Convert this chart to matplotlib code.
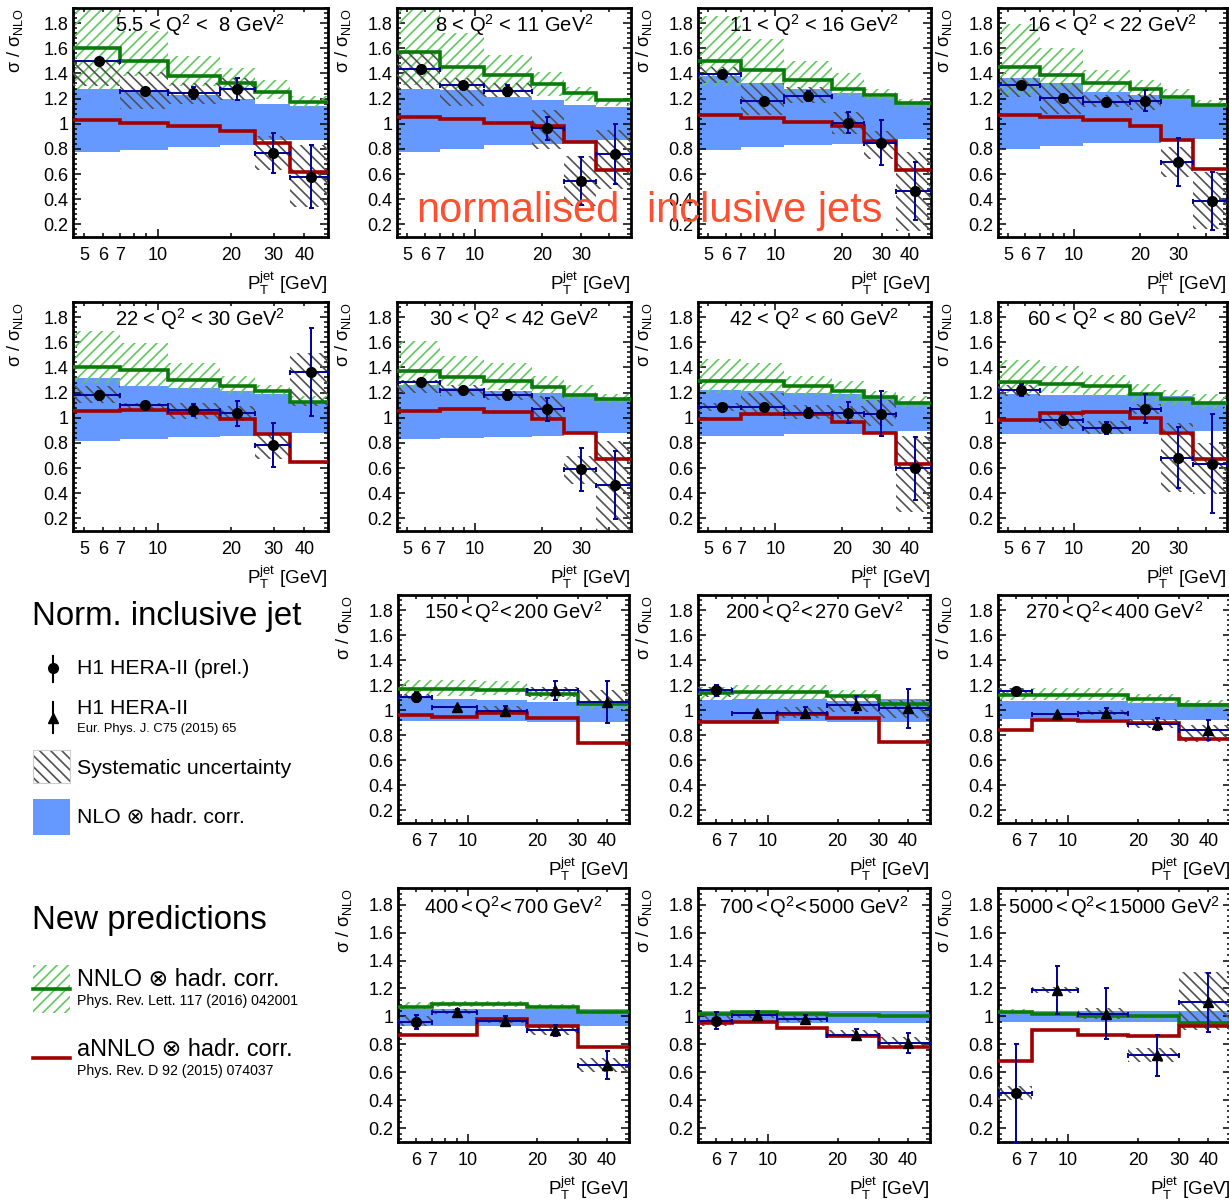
import matplotlib
matplotlib.use('Agg')
import matplotlib.pyplot as plt
import matplotlib.transforms as mtransforms
from matplotlib.patches import Rectangle
from matplotlib.ticker import FixedLocator, MultipleLocator, FuncFormatter
import numpy as np

plt.rcParams['font.family'] = ['Liberation Sans', 'DejaVu Sans']
plt.rcParams['mathtext.fontset'] = 'custom'
plt.rcParams['mathtext.rm'] = 'Liberation Sans'
plt.rcParams['mathtext.it'] = 'Liberation Sans:italic'
plt.rcParams['mathtext.bf'] = 'Liberation Sans:bold'
plt.rcParams['hatch.linewidth'] = 1.2

# ---------------- data ----------------
edges_low = [4.5, 7, 11, 18, 25, 35, 50]
edges_high = [5, 7, 11, 18, 30, 50]
pt_low = [5.75, 8.9, 14.0, 21.1, 29.8, 42.5]
pt_high = [6.0, 9.0, 14.5, 24.0, 40.0]

titles = ['5.5 < Q$^2$ <  8 GeV$^2$', '8 < Q$^2$ < 11 GeV$^2$',
          '11 < Q$^2$ < 16 GeV$^2$', '16 < Q$^2$ < 22 GeV$^2$',
          '22 < Q$^2$ < 30 GeV$^2$', '30 < Q$^2$ < 42 GeV$^2$',
          '42 < Q$^2$ < 60 GeV$^2$', '60 < Q$^2$ < 80 GeV$^2$',
          r'150$\,$<$\,$Q$^2$<$\,$200 GeV$^2$', r'200$\,$<$\,$Q$^2$<$\,$270 GeV$^2$',
          r'270$\,$<$\,$Q$^2$<$\,$400 GeV$^2$', r'400$\,$<$\,$Q$^2$<$\,$700 GeV$^2$',
          r'700$\,$<$\,$Q$^2$<$\,$5000 GeV$^2$', r'5000$\,$<$\,$Q$^2$<$\,$15000 GeV$^2$']

# NLO x hadr. corr. band
nlo_lo = [[0.775, 0.795, 0.815, 0.83, 0.87, 0.87],
          [0.777, 0.80, 0.83, 0.84, 0.857, 0.87],
          [0.79, 0.817, 0.835, 0.843, 0.88, 0.88],
          [0.80, 0.825, 0.85, 0.85, 0.876, 0.876],
          [0.815, 0.834, 0.847, 0.855, 0.88, 0.88],
          [0.834, 0.842, 0.85, 0.855, 0.88, 0.88],
          [0.855, 0.855, 0.868, 0.868, 0.886, 0.894],
          [0.873, 0.873, 0.873, 0.873, 0.894, 0.894],
          [0.917, 0.917, 0.914, 0.903, 0.903],
          [0.909, 0.912, 0.912, 0.903, 0.903],
          [0.93, 0.93, 0.93, 0.92, 0.92],
          [0.93, 0.93, 0.93, 0.93, 0.93],
          [0.95, 0.95, 0.95, 0.95, 0.95],
          [0.96, 0.96, 0.96, 0.96, 0.96]]
nlo_hi = [[1.28, 1.27, 1.23, 1.20, 1.16, 1.14],
          [1.28, 1.27, 1.215, 1.19, 1.15, 1.136],
          [1.38, 1.32, 1.28, 1.243, 1.215, 1.163],
          [1.36, 1.32, 1.256, 1.23, 1.195, 1.15],
          [1.317, 1.256, 1.238, 1.211, 1.185, 1.124],
          [1.264, 1.238, 1.211, 1.20, 1.177, 1.15],
          [1.219, 1.21, 1.20, 1.185, 1.17, 1.114],
          [1.185, 1.18, 1.18, 1.177, 1.17, 1.11],
          [1.106, 1.092, 1.08, 1.066, 1.066],
          [1.08, 1.087, 1.087, 1.07, 1.092],
          [1.07, 1.07, 1.07, 1.06, 1.06],
          [1.05, 1.05, 1.05, 1.05, 1.05],
          [1.04, 1.04, 1.04, 1.04, 1.04],
          [1.04, 1.04, 1.04, 1.04, 1.04]]

# NNLO x hadr. corr. (line + scale band)
nnlo = [[1.60, 1.495, 1.38, 1.32, 1.256, 1.176],
        [1.567, 1.455, 1.39, 1.317, 1.248, 1.19],
        [1.495, 1.43, 1.35, 1.28, 1.23, 1.163],
        [1.455, 1.39, 1.32, 1.277, 1.216, 1.15],
        [1.404, 1.383, 1.298, 1.25, 1.211, 1.124],
        [1.37, 1.322, 1.29, 1.246, 1.177, 1.15],
        [1.296, 1.296, 1.25, 1.211, 1.164, 1.114],
        [1.282, 1.269, 1.25, 1.192, 1.15, 1.114],
        [1.166, 1.166, 1.158, 1.132, 1.053],
        [1.135, 1.142, 1.142, 1.11, 1.053],
        [1.12, 1.12, 1.12, 1.09, 1.04],
        [1.07, 1.09, 1.09, 1.07, 1.03],
        [1.02, 1.03, 1.02, 1.01, 1.0],
        [1.03, 1.02, 1.0, 1.0, 0.95]]
nnlo_hi = [[2.0, 1.735, 1.535, 1.44, 1.35, 1.22],
           [2.0, 1.72, 1.55, 1.415, 1.296, 1.2],
           [1.86, 1.673, 1.495, 1.40, 1.275, 1.2],
           [1.79, 1.60, 1.43, 1.35, 1.277, 1.19],
           [1.686, 1.594, 1.436, 1.33, 1.264, 1.172],
           [1.607, 1.488, 1.436, 1.33, 1.264, 1.185],
           [1.467, 1.436, 1.33, 1.29, 1.211, 1.17],
           [1.457, 1.41, 1.343, 1.272, 1.224, 1.185],
           [1.242, 1.242, 1.237, 1.163, 1.08],
           [1.184, 1.205, 1.205, 1.158, 1.092],
           [1.18, 1.18, 1.18, 1.13, 1.08],
           [1.10, 1.11, 1.11, 1.09, 1.05],
           [1.03, 1.04, 1.03, 1.02, 1.01],
           [1.05, 1.03, 1.02, 1.01, 0.97]]
nnlo_lo = [[1.28, 1.38, 1.30, 1.26, 1.20, 1.13],
           [1.31, 1.28, 1.25, 1.22, 1.18, 1.14],
           [1.30, 1.30, 1.26, 1.22, 1.19, 1.13],
           [1.22, 1.28, 1.25, 1.22, 1.19, 1.13],
           [1.28, 1.25, 1.22, 1.19, 1.17, 1.10],
           [1.24, 1.25, 1.22, 1.19, 1.15, 1.12],
           [1.2, 1.2, 1.18, 1.15, 1.12, 1.08],
           [1.2, 1.2, 1.17, 1.13, 1.1, 1.07],
           [1.106, 1.11, 1.118, 1.08, 1.0],
           [1.08, 1.092, 1.092, 1.08, 1.0],
           [1.08, 1.08, 1.08, 1.05, 1.0],
           [1.05, 1.07, 1.07, 1.05, 1.01],
           [1.01, 1.02, 1.01, 1.0, 0.99],
           [1.01, 1.0, 0.98, 0.98, 0.93]]

# aNNLO x hadr. corr.
annlo = [[1.03, 1.003, 0.98, 0.945, 0.85, 0.62],
         [1.056, 1.035, 1.008, 0.982, 0.857, 0.636],
         [1.07, 1.043, 1.017, 0.982, 0.865, 0.636],
         [1.07, 1.05, 1.03, 0.982, 0.87, 0.644],
         [1.053, 1.061, 1.04, 0.987, 0.868, 0.651],
         [1.053, 1.066, 1.047, 0.992, 0.876, 0.67],
         [0.987, 1.032, 1.032, 0.966, 0.881, 0.636],
         [0.98, 1.035, 1.045, 1.0, 0.876, 0.67],
         [0.961, 0.943, 0.98, 0.935, 0.738],
         [0.909, 0.903, 0.974, 0.935, 0.743],
         [0.84, 0.92, 0.915, 0.90, 0.77],
         [0.87, 0.87, 0.98, 0.93, 0.78],
         [0.95, 0.96, 0.92, 0.86, 0.78],
         [0.68, 0.90, 0.87, 0.86, 0.93]]

# H1 data: ratio, stat. error, systematic band
data = [[1.50, 1.264, 1.243, 1.275, 0.77, 0.578],
        [1.434, 1.31, 1.264, 0.963, 0.546, 0.758],
        [1.397, 1.184, 1.224, 1.009, 0.849, 0.466],
        [1.31, 1.208, 1.176, 1.184, 0.697, 0.386],
        [1.177, 1.098, 1.061, 1.034, 0.783, 1.362],
        [1.282, 1.224, 1.182, 1.066, 0.59, 0.467],
        [1.087, 1.087, 1.04, 1.04, 1.032, 0.599],
        [1.219, 0.979, 0.92, 1.071, 0.683, 0.636],
        [1.106, 1.027, 0.995, 1.158, 1.066],
        [1.158, 0.979, 0.979, 1.045, 1.014],
        [1.15, 0.97, 0.98, 0.89, 0.84],
        [0.96, 1.03, 0.97, 0.90, 0.65],
        [0.97, 1.01, 0.98, 0.87, 0.81],
        [0.45, 1.19, 1.02, 0.72, 1.10]]
stat = [[0.01, 0.01, 0.048, 0.087, 0.16, 0.25],
        [0.01, 0.01, 0.045, 0.09, 0.19, 0.24],
        [0.01, 0.01, 0.04, 0.086, 0.177, 0.233],
        [0.01, 0.01, 0.03, 0.086, 0.19, 0.23],
        [0.036, 0.01, 0.05, 0.10, 0.174, 0.35],
        [0.02, 0.01, 0.04, 0.09, 0.17, 0.27],
        [0.02, 0.01, 0.04, 0.082, 0.18, 0.25],
        [0.046, 0.04, 0.046, 0.116, 0.24, 0.39],
        [0.04, 0.005, 0.035, 0.076, 0.167],
        [0.046, 0.005, 0.043, 0.07, 0.157],
        [0.03, 0.005, 0.04, 0.05, 0.08],
        [0.05, 0.02, 0.03, 0.04, 0.1],
        [0.06, 0.03, 0.03, 0.04, 0.07],
        [0.35, 0.17, 0.18, 0.15, 0.21]]
sys_lo = [[1.30, 1.12, 1.16, 1.19, 0.63, 0.34],
          [1.28, 1.14, 1.215, 0.80, 0.35, 0.485],
          [1.32, 1.07, 1.163, 0.92, 0.72, 0.15],
          [1.215, 1.08, 1.136, 1.11, 0.577, 0.165],
          [1.12, 1.066, 0.987, 0.974, 0.67, 1.09],
          [1.2, 1.17, 1.145, 0.987, 0.47, 0.11],
          [1.053, 1.013, 0.987, 0.99, 0.934, 0.248],
          [1.17, 0.908, 0.868, 1.03, 0.406, 0.392],
          [1.09, 1.02, 0.99, 1.105, 1.066],
          [1.105, 0.97, 0.935, 0.987, 0.935],
          [1.12, 0.96, 0.96, 0.86, 0.75],
          [0.93, 1.02, 0.95, 0.87, 0.6],
          [0.93, 0.99, 0.96, 0.85, 0.77],
          [0.4, 1.17, 0.98, 0.67, 0.9]]
sys_hi = [[1.51, 1.415, 1.32, 1.36, 0.90, 0.83],
          [1.56, 1.36, 1.32, 1.11, 0.74, 0.95],
          [1.455, 1.32, 1.29, 1.096, 0.945, 0.777],
          [1.36, 1.32, 1.23, 1.24, 0.817, 0.618],
          [1.25, 1.12, 1.12, 1.092, 0.88, 1.515],
          [1.3, 1.264, 1.21, 1.17, 0.695, 0.815],
          [1.12, 1.2, 1.105, 1.09, 1.145, 0.855],
          [1.26, 1.04, 0.975, 1.11, 0.96, 0.8],
          [1.13, 1.035, 1.03, 1.184, 1.163],
          [1.184, 0.99, 1.027, 1.105, 1.08],
          [1.18, 0.98, 1.0, 0.93, 0.88],
          [1.0, 1.05, 0.99, 0.93, 0.7],
          [1.01, 1.03, 1.0, 0.9, 0.85],
          [0.5, 1.21, 1.06, 0.77, 1.32]]

# which pT values get a label on each panel
xlabels_shown = [[5, 6, 7, 20, 30, 40], [5, 6, 7, 20, 30],
                 [5, 6, 7, 20, 30, 40], [5, 6, 7, 20, 30],
                 [5, 6, 7, 20, 30, 40], [5, 6, 7, 20, 30],
                 [5, 6, 7, 20, 30, 40], [5, 6, 7, 20, 30]] + [[6, 7, 20, 30, 40]] * 6

# ---------------- style ----------------
c_nlo = '#6699ff'
c_nnlo = '#0a7a0a'
c_nnlo_hatch = '#5fc95f'
c_annlo = '#a00000'
c_sys = '#505050'
c_err = '#000099'

W, H = 1229, 1202
fig = plt.figure(figsize=(W / 100, H / 100), dpi=100)

rows = [(8, 237), (302, 531), (595, 823), (888, 1142)]
cols_low = [(73, 328), (397, 631), (698, 931), (998, 1227)]
cols_high = [(398, 629), (698, 930), (998, 1231)]


def add_ax(x0, x1, y0, y1):
    return fig.add_axes([x0 / W, 1 - y1 / H, (x1 - x0) / W, (y1 - y0) / H])


def draw_panel(ax, i, ylab_off):
    low = i < 8
    edges = np.array(edges_low if low else edges_high)
    xc = np.array(pt_low if low else pt_high)
    left = edges[:-1]
    width = np.diff(edges)

    lo, hi = np.array(nlo_lo[i]), np.array(nlo_hi[i])
    ax.bar(left, hi - lo, width=width, bottom=lo, align='edge',
           color=c_nlo, linewidth=0, zorder=1)
    lo, hi = np.array(nnlo_lo[i]), np.array(nnlo_hi[i])
    ax.bar(left, hi - lo, width=width, bottom=lo, align='edge',
           facecolor='none', edgecolor=c_nnlo_hatch, hatch='///', linewidth=0, zorder=2)
    lo, hi = np.array(sys_lo[i]), np.array(sys_hi[i])
    ax.bar(left, hi - lo, width=width, bottom=lo, align='edge',
           facecolor='none', edgecolor=c_sys, hatch='\\\\\\', linewidth=0, zorder=3)

    ax.stairs(nnlo[i], edges, baseline=None, color=c_nnlo, linewidth=2.6, zorder=4)
    ax.stairs(annlo[i], edges, baseline=None, color=c_annlo, linewidth=2.6, zorder=4)

    y = np.array(data[i])
    xerr = [xc - edges[:-1], edges[1:] - xc]
    ax.errorbar(xc, y, xerr=xerr, yerr=stat[i], fmt='none', ecolor=c_err,
                elinewidth=1.4, capsize=1.8, capthick=1.4, zorder=5)
    if low:
        ax.plot(xc, y, 'o', color='k', ms=7, zorder=6)
    else:
        ax.plot(xc[:1], y[:1], 'o', color='k', ms=7, zorder=6)
        ax.plot(xc[1:], y[1:], '^', color='k', ms=7, zorder=6)

    # axes, ROOT-like
    ax.set_xscale('log')
    ax.set_xlim(edges[0], edges[-1])
    ax.set_ylim(0.1, 1.92)
    ax.yaxis.set_major_locator(MultipleLocator(0.2))
    ax.yaxis.set_minor_locator(MultipleLocator(0.04))
    ax.yaxis.set_major_formatter(FuncFormatter(lambda v, p: '%g' % round(v, 2)))
    ax.xaxis.set_major_locator(FixedLocator([10]))
    ax.xaxis.set_major_formatter(FuncFormatter(lambda v, p: '10'))
    minors = [5, 6, 7, 8, 9, 20, 30, 40]
    ax.xaxis.set_minor_locator(FixedLocator(minors))
    shown = xlabels_shown[i]
    ax.xaxis.set_minor_formatter(FuncFormatter(
        lambda v, p: ('%d' % round(v)) if round(v) in shown else ''))
    ax.tick_params(which='both', direction='in', top=True, right=True,
                   labelsize=13, width=1.1)
    ax.tick_params(which='major', length=6)
    ax.tick_params(which='minor', length=3)
    ax.tick_params(axis='x', which='both', pad=7.5)
    ax.tick_params(axis='y', which='both', pad=3.5)
    for s in ax.spines.values():
        s.set_linewidth(2)

    trans = mtransforms.blended_transform_factory(ax.transAxes, ax.transData)
    ax.text(0.5, 1.785, titles[i], transform=trans, ha='center', va='center',
            fontsize=14.5, zorder=10)
    ax.text(0, 1, r'σ / σ$_{\rm NLO}$', rotation=90, ha='center', va='top', fontsize=13,
            transform=mtransforms.offset_copy(ax.transAxes, fig=fig, x=ylab_off, y=0, units='dots'))
    ax.text(1, 0, r'P$_{\rm T}^{\rm jet}$ [GeV]', ha='right', va='center', fontsize=13.5,
            transform=mtransforms.offset_copy(ax.transAxes, fig=fig, x=0, y=-46, units='dots'))


for i in range(14):
    if i < 8:
        r, c = divmod(i, 4)
        x0, x1 = cols_low[c]
        off = -58 if c == 0 else -54
    else:
        r, c = divmod(i - 8, 3)
        r += 2
        x0, x1 = cols_high[c]
        off = -54
    y0, y1 = rows[r]
    ax = add_ax(x0, x1, y0, y1)
    draw_panel(ax, i, off)

# overlay label
fig.text(416 / W, 1 - 222 / H, 'normalised', color='#ff4f30', fontsize=30,
         ha='left', va='baseline')
fig.text(647 / W, 1 - 222 / H, 'inclusive jets', color='#ff4f30', fontsize=30,
         ha='left', va='baseline')

# ---------------- legend (pixel coordinates) ----------------
lg = fig.add_axes([0, 0, 340 / W, (H - 590) / H])
lg.set_xlim(0, 340)
lg.set_ylim(H, 590)
lg.axis('off')

lg.text(32, 617, 'Norm. inclusive jet', fontsize=23.8, ha='left', va='center')
lg.plot([52.5, 52.5], [656, 682], color='k', lw=1.5)
lg.plot([52.5], [668], 'o', color='k', ms=7)
lg.text(77, 668, 'H1 HERA-II (prel.)', fontsize=15.3, ha='left', va='center')
lg.plot([52.5, 52.5], [702, 733], color='k', lw=1.5)
lg.plot([52.5], [718], '^', color='k', ms=7)
lg.text(77, 709, 'H1 HERA-II', fontsize=15.3, ha='left', va='center')
lg.text(77, 729, 'Eur. Phys. J. C75 (2015) 65', fontsize=9.4, ha='left', va='center')
lg.add_patch(Rectangle((33, 750), 37, 33, facecolor='none', edgecolor=c_sys,
                       hatch='\\\\\\', linewidth=0))
lg.add_patch(Rectangle((33, 750), 37, 33, facecolor='none', edgecolor='#cccccc',
                       linewidth=0.8))
lg.text(77, 768, 'Systematic uncertainty', fontsize=15.3, ha='left', va='center')
lg.add_patch(Rectangle((33, 799), 37, 36, facecolor=c_nlo, linewidth=0))
lg.text(77, 817, 'NLO ⊗ hadr. corr.', fontsize=15.3, ha='left', va='center')

lg.text(32, 920, 'New predictions', fontsize=23.8, ha='left', va='center')
lg.add_patch(Rectangle((33, 965), 37, 48, facecolor='none', edgecolor=c_nnlo_hatch,
                       hatch='///', linewidth=0))
lg.plot([33, 70], [989, 989], color=c_nnlo, lw=2.6)
lg.text(77, 980, 'NNLO ⊗ hadr. corr.', fontsize=16.9, ha='left', va='center')
lg.text(77, 1001, 'Phys. Rev. Lett. 117 (2016) 042001', fontsize=10.2, ha='left', va='center')
lg.plot([33, 70], [1058, 1058], color=c_annlo, lw=2.6)
lg.text(77, 1050, 'aNNLO ⊗ hadr. corr.', fontsize=16.9, ha='left', va='center')
lg.text(77, 1071, 'Phys. Rev. D 92 (2015) 074037', fontsize=10.2, ha='left', va='center')

plt.savefig('out.png', dpi=100)
